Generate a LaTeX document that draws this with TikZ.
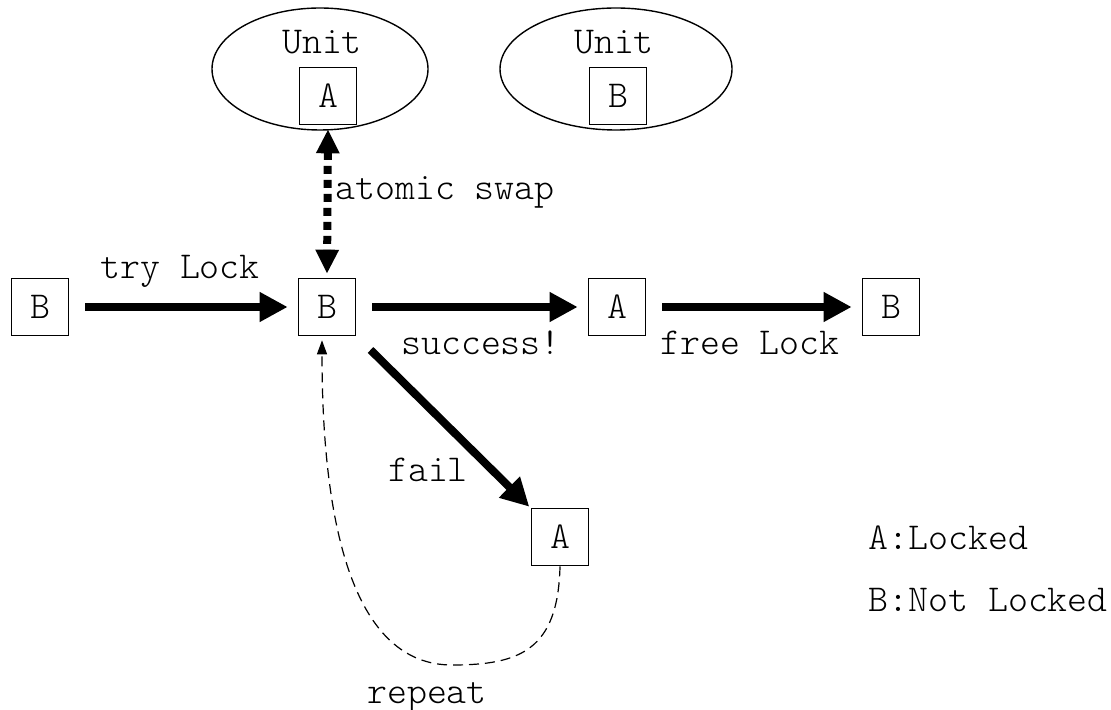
\documentclass[tikz,border=0pt]{standalone}
\usepackage{fontspec}
\setmonofont{lmmonolt10-regular.otf}
\usetikzlibrary{arrows.meta}
\begin{document}
\begin{tikzpicture}[x=0.5pt,y=-0.5pt,
  font=\ttfamily\fontsize{19}{22}\selectfont,
  state/.style={draw,line width=0.8pt,minimum size=28.5pt,inner sep=0pt},
  bigarrow/.style={line width=4pt,-{Triangle[length=14pt,width=14pt]}},
  swaparrow/.style={line width=4pt,dash pattern=on 4pt off 3pt,
    {Triangle[length=12pt,width=11pt]}-{Triangle[length=12pt,width=11pt]}},
  retarrow/.style={line width=0.6pt,dash pattern=on 5pt off 3pt,-{Triangle[length=7pt,width=5pt]}},
  lbl/.style={inner sep=0pt}]
\useasboundingbox (0,0) rectangle (1111,710);

% memory units
\draw[line width=0.7pt] (320,69) ellipse [x radius=108, y radius=61];
\draw[line width=0.7pt] (616,69) ellipse [x radius=116, y radius=61];
\node[lbl] (u1) at (322,42) {Unit};
\node[lbl] (u2) at (614,42) {Unit};
\node[state] (ua) at (328,96) {A};
\node[state] (ub) at (618,96) {B};

% lock states
\node[state] (b0) at (40,307) {B};
\node[state] (b1) at (327,307) {B};
\node[state] (a1) at (617,307) {A};
\node[state] (b2) at (891,307) {B};
\node[state] (a2) at (560,537) {A};

% transitions
\draw[bigarrow,shorten <=8pt,shorten >=5pt] (b0) -- (b1);
\draw[bigarrow,shorten <=8pt,shorten >=5pt] (b1) -- (a1);
\draw[bigarrow,shorten <=8pt,shorten >=5pt] (a1) -- (b2);
\draw[bigarrow,shorten <=10pt,shorten >=1pt] (b1) -- (a2);
\draw[swaparrow,shorten <=2pt,shorten >=2pt] (ua.south) -- (b1.north);
\coordinate (low) at (452,665);
\draw[retarrow] (a2.south) .. controls (558,650) and (520,665) .. (low)
  .. controls (355,665) and (322,530) .. ([xshift=-2.5pt,yshift=-2pt]b1.south);

% labels
\node[lbl] (ltry) at (180,271) {try Lock};
\node[lbl] (lsucc) at (481,343) {success!};
\node[lbl] (lfree) at (750,343) {free Lock};
\node[lbl] (lfail) at (428,470) {fail};
\node[lbl] (lswap) at (445,192) {atomic swap};
\node[lbl] (lrep) at (427,697) {repeat};
\node[lbl,anchor=west] (leg1) at (868,538) {A:Locked};
\node[lbl,anchor=west] (leg2) at (868,600) {B:Not Locked};
\end{tikzpicture}
\end{document}
